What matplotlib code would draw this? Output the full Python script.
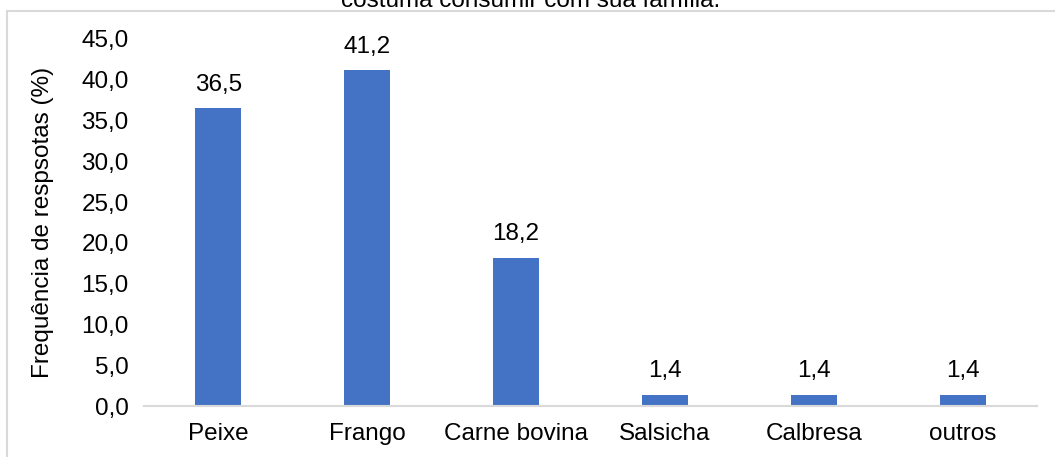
import matplotlib.pyplot as plt
import matplotlib.patches as mpatches

# dados
categorias = ['Peixe', 'Frango', 'Carne bovina', 'Salsicha', 'Calbresa', 'outros']
valores = [36.5, 41.2, 18.2, 1.4, 1.4, 1.4]
yticks = [0, 5, 10, 15, 20, 25, 30, 35, 40, 45]

plt.rcParams['font.family'] = ['Liberation Sans', 'DejaVu Sans']
fs = 17.5

fig = plt.figure(figsize=(10.55, 4.57), dpi=100)
ax = fig.add_axes([144 / 1055, 1 - 406 / 457, (1037 - 144) / 1055, (406 - 39) / 457])

# moldura do gráfico
moldura = mpatches.Rectangle((7 / 1055, -0.1), 1.2, 1.1 - 11 / 457, transform=fig.transFigure,
                             fill=False, edgecolor='#d9d9d9', linewidth=1.5, zorder=0)
fig.patches.append(moldura)

# título (cortado no topo, como no original)
fig.text(0.503, 1 - 7 / 457, 'costuma consumir com sua família.', ha='center', va='baseline', fontsize=fs)

x = range(len(categorias))
ax.bar(x, valores, width=0.31, color='#4472C4', zorder=2)
for xi, v in zip(x, valores):
    ax.text(xi, v + 1.5, f'{v:.1f}'.replace('.', ','), ha='center', va='bottom', fontsize=fs)

ax.set_xlim(-0.5, len(categorias) - 0.5)
ax.set_ylim(0, 45)
ax.set_yticks(yticks)
ax.set_yticklabels([f'{t:.1f}'.replace('.', ',') for t in yticks], fontsize=fs)
ax.set_xticks(list(x))
ax.set_xticklabels(categorias, fontsize=fs)
ax.tick_params(length=0, pad=11)
ax.tick_params(axis='x', pad=12)

for s in ['top', 'right', 'left']:
    ax.spines[s].set_visible(False)
ax.spines['bottom'].set_color('#d9d9d9')
ax.spines['bottom'].set_linewidth(1.5)

ax.set_ylabel('Frequência de respsotas (%)', fontsize=fs, labelpad=20)

plt.savefig('out.png', dpi=100)
